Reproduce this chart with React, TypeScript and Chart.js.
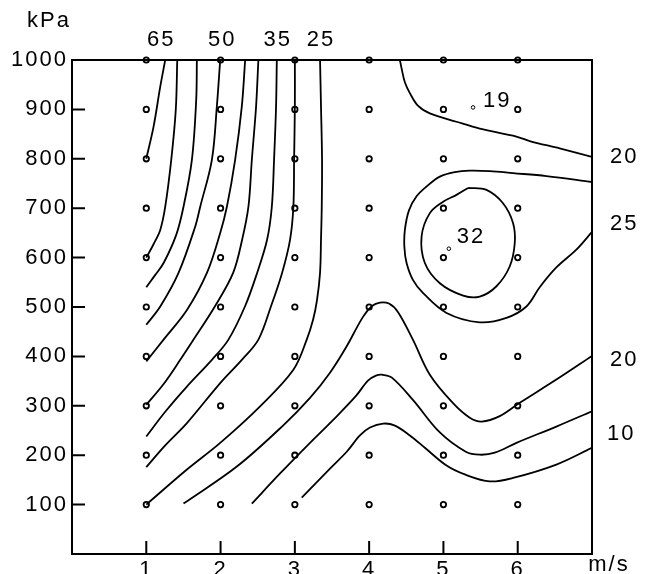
import React, { useEffect, useRef } from "react";
import { Chart, registerables } from "chart.js";

Chart.register(...registerables);

const FONT = "'Liberation Sans', Arial, Helvetica, sans-serif";
const FONT_SIZE = 22;
const LETTER_SPACING = "2px";

// ---- axes ----
const speedRange = [0, 7]; // m/s
const pressureRange = [0, 1000]; // kPa
const speedTicks = [1, 2, 3, 4, 5, 6];
const pressureTicks = [100, 200, 300, 400, 500, 600, 700, 800, 900, 1000];
const speedUnit = "m/s";
const pressureUnit = "kPa";

// ---- contour lines: [speed (m/s), pressure (kPa)] ----
const c65 = [[1.255, 1000], [1.188, 946], [1.098, 865], [1.0, 800]];
const c60 = [[1.417, 1000], [1.397, 899], [1.336, 798], [1.255, 703], [1.188, 656], [1.094, 626], [1.0, 600]];
const c55 = [[1.681, 1000], [1.672, 919], [1.614, 798], [1.501, 703], [1.403, 646], [1.233, 589], [1.121, 565], [1.0, 540]];
const c50 = [[1.995, 1000], [1.95, 906], [1.883, 798], [1.726, 703], [1.659, 663], [1.434, 569], [1.188, 501], [1.0, 464]];
const c45 = [[2.331, 1000], [2.286, 906], [2.196, 798], [2.085, 703], [1.995, 650], [1.816, 569], [1.547, 494], [1.233, 434], [1.0, 390]];
const c40 = [[2.509, 1000], [2.478, 906], [2.421, 798], [2.375, 703], [2.29, 636], [2.169, 569], [1.927, 502], [1.636, 434], [1.457, 393], [1.228, 343], [1.0, 302]];
const c35 = [[2.757, 1000], [2.747, 906], [2.72, 798], [2.69, 703], [2.626, 636], [2.492, 569], [2.331, 502], [2.106, 434], [1.883, 393], [1.547, 339], [1.255, 288], [1.0, 238]];
const c30 = [[3.0, 1000], [3.0, 906], [2.99, 800], [2.98, 703], [2.935, 636], [2.828, 569], [2.68, 502], [2.509, 434], [2.286, 393], [1.995, 346], [1.547, 265], [1.255, 220], [1.0, 176]];
const c25 = [[3.339, 1000], [3.352, 906], [3.366, 798], [3.362, 703], [3.352, 636], [3.339, 569], [3.298, 514], [3.245, 474], [3.16, 434], [2.98, 373], [2.532, 299], [1.995, 225], [1.547, 171], [1.0, 100]];
const c20 = [[1.501, 102], [2.219, 177], [2.841, 260], [3.204, 316], [3.473, 367], [3.688, 418], [3.917, 480], [4.038, 502], [4.145, 509], [4.266, 507], [4.387, 490], [4.589, 434], [4.817, 363], [5.126, 306], [5.355, 276], [5.516, 268], [5.758, 279], [6.027, 306], [6.52, 353], [7.0, 401]];
const c15 = [[2.421, 102], [2.801, 163], [3.204, 225], [3.513, 271], [3.823, 320], [3.984, 351], [4.091, 361], [4.172, 363], [4.306, 357], [4.589, 312], [4.952, 246], [5.301, 207], [5.489, 201], [5.691, 205], [5.983, 225], [6.52, 258], [7.0, 289]];
const c10 = [[3.093, 114], [3.473, 173], [3.698, 207], [3.876, 240], [4.011, 256], [4.19, 264], [4.347, 260], [4.548, 240], [4.75, 215], [5.042, 179], [5.288, 161], [5.624, 147], [5.937, 154], [6.52, 181], [7.0, 215]];
const c20upper = [[4.414, 1000], [4.441, 980], [4.481, 955], [4.548, 933], [4.66, 907], [4.817, 892], [5.176, 875], [5.489, 861], [5.983, 845], [6.161, 836], [6.565, 821], [7.0, 804]];
const c25loop = [[7.0, 753], [6.386, 765], [5.937, 771], [5.624, 775], [5.355, 776], [5.153, 773], [4.952, 764], [4.773, 744], [4.638, 724], [4.535, 695], [4.481, 656], [4.474, 622], [4.504, 589], [4.589, 555], [4.727, 528], [5.042, 488], [5.489, 469], [5.848, 478], [6.117, 501], [6.296, 540], [6.52, 580], [6.789, 616], [7.0, 652]];
const c30ring = [[5.332, 741], [5.579, 737], [5.802, 710], [5.937, 670], [5.96, 629], [5.892, 582], [5.714, 542], [5.489, 521], [5.265, 523], [4.952, 548], [4.75, 589], [4.706, 643], [4.817, 690], [4.996, 713], [5.176, 727], [5.332, 741]];

// contour labels: which line, its text, and at which end it sits
const contourLabels = [
  { id: "t65", line: c65, text: "65", side: "top" },
  { id: "t50", line: c50, text: "50", side: "top" },
  { id: "t35", line: c35, text: "35", side: "top" },
  { id: "t25", line: c25, text: "25", side: "top" },
  { id: "r20a", line: c20upper, text: "20", side: "right" },
  { id: "r25", line: c25loop, text: "25", side: "right" },
  { id: "r20b", line: c20, text: "20", side: "right" },
  { id: "r10", line: c10, text: "10", side: "right" },
];
// pixel nudges for the labels (styling only)
const labelNudge: Record<string, [number, number]> = {
  t65: [-5, 0],
  t50: [1, 0],
  t35: [0, 0],
  t25: [0, 0],
  r20a: [0, 0],
  r25: [0, -8],
  r20b: [0, 4],
  r10: [-3, -14],
};

// extremes
const minPoint = [5.399, 904];
const minText = "19";
const maxPoint = [5.073, 618];
const maxText = "32";

const toXY = (pts: number[][]) => pts.map(([x, y]) => ({ x, y }));

const contourLines = [c65, c60, c55, c50, c45, c40, c35, c30, c25, c20, c15, c10, c20upper, c25loop, c30ring];

export default function App() {
  const ref = useRef<HTMLCanvasElement | null>(null);

  useEffect(() => {
    if (!ref.current) return;

    const stations: { x: number; y: number }[] = [];
    for (const x of speedTicks) for (const y of pressureTicks) stations.push({ x, y });

    const lineSets = contourLines.map((pts) => ({
      data: toXY(pts),
      showLine: true,
      borderColor: "#000",
      borderWidth: 1.8,
      pointRadius: 0,
      pointHoverRadius: 0,
      tension: 0.35,
      fill: false,
    }));

    const decor = {
      id: "decor",
      beforeDraw(chart: any) {
        chart.ctx.letterSpacing = LETTER_SPACING;
      },
      beforeDatasetsDraw(chart: any) {
        const { ctx, chartArea: a, scales } = chart;
        ctx.save();
        ctx.strokeStyle = "#000";
        ctx.lineWidth = 2;
        ctx.strokeRect(a.left, a.top, a.right - a.left, a.bottom - a.top);
        ctx.beginPath();
        for (const v of pressureTicks) {
          const y = scales.y.getPixelForValue(v);
          ctx.moveTo(a.left, y);
          ctx.lineTo(a.left + 13, y);
        }
        for (const v of speedTicks) {
          const x = scales.x.getPixelForValue(v);
          ctx.moveTo(x, a.bottom);
          ctx.lineTo(x, a.bottom - 13);
        }
        ctx.stroke();
        ctx.restore();
      },
      afterDraw(chart: any) {
        const { ctx, chartArea: a, scales } = chart;
        const sx = scales.x, sy = scales.y;
        ctx.save();
        ctx.letterSpacing = LETTER_SPACING;
        ctx.fillStyle = "#000";
        ctx.font = `${FONT_SIZE}px ${FONT}`;
        ctx.textBaseline = "middle";
        for (const lab of contourLabels) {
          const [dx, dy] = labelNudge[lab.id] || [0, 0];
          if (lab.side === "top") {
            const p = lab.line[0];
            ctx.textAlign = "center";
            ctx.fillText(lab.text, sx.getPixelForValue(p[0]) + dx + 1, a.top - 20 + dy);
          } else {
            const p = lab.line[lab.line.length - 1];
            ctx.textAlign = "left";
            ctx.fillText(lab.text, a.right + 18 + dx, sy.getPixelForValue(p[1]) + dy);
          }
        }
        ctx.textAlign = "left";
        ctx.fillText(minText, sx.getPixelForValue(minPoint[0]) + 10, sy.getPixelForValue(minPoint[1]) - 6);
        ctx.fillText(maxText, sx.getPixelForValue(maxPoint[0]) + 8, sy.getPixelForValue(maxPoint[1]) - 12);
        ctx.textAlign = "center";
        ctx.fillText(pressureUnit, a.left - 23, a.top - 39);
        ctx.fillText(speedUnit, a.right + 17, a.bottom + 11);
        ctx.restore();
      },
    };

    const tickFont = { family: FONT, size: FONT_SIZE };

    const chart = new Chart(ref.current, {
      type: "scatter",
      data: {
        datasets: [
          ...lineSets,
          {
            data: stations,
            pointRadius: 2.7,
            pointBorderWidth: 1.8,
            pointBackgroundColor: "rgba(0,0,0,0)",
            pointBorderColor: "#000",
            pointHoverRadius: 2.7,
            showLine: false,
            clip: false,
          },
          {
            data: toXY([minPoint, maxPoint]),
            pointRadius: 1.8,
            pointBorderWidth: 1,
            pointBackgroundColor: "rgba(0,0,0,0)",
            pointBorderColor: "#000",
            showLine: false,
          },
        ] as any,
      },
      options: {
        animation: false,
        responsive: false,
        events: [],
        layout: { padding: { top: 60, right: 56, left: 0, bottom: 0 } },
        plugins: { legend: { display: false }, tooltip: { enabled: false } },
        scales: {
          x: {
            type: "linear",
            min: speedRange[0],
            max: speedRange[1],
            afterBuildTicks: (s: any) => {
              s.ticks = speedTicks.map((v) => ({ value: v }));
            },
            afterFit: (s: any) => {
              s.height = 20;
            },
            grid: { display: false, drawTicks: false },
            border: { display: false },
            ticks: {
              color: "#000",
              font: tickFont,
              padding: 3,
              maxRotation: 0,
              autoSkip: false,
              callback: (v: any) => String(v),
            },
          },
          y: {
            type: "linear",
            min: pressureRange[0],
            max: pressureRange[1],
            afterBuildTicks: (s: any) => {
              s.ticks = pressureTicks.map((v) => ({ value: v }));
            },
            afterFit: (s: any) => {
              s.width = 72;
            },
            grid: { display: false, drawTicks: false },
            border: { display: false },
            ticks: {
              color: "#000",
              font: tickFont,
              padding: 4,
              autoSkip: false,
              callback: (v: any) => String(v),
            },
          },
        },
      } as any,
      plugins: [decor],
    });

    return () => chart.destroy();
  }, []);

  return (
    <canvas
      ref={ref}
      width={648}
      height={574}
      style={{ position: "fixed", left: 0, top: 0, width: 648, height: 574, display: "block", background: "#fff" }}
    />
  );
}
